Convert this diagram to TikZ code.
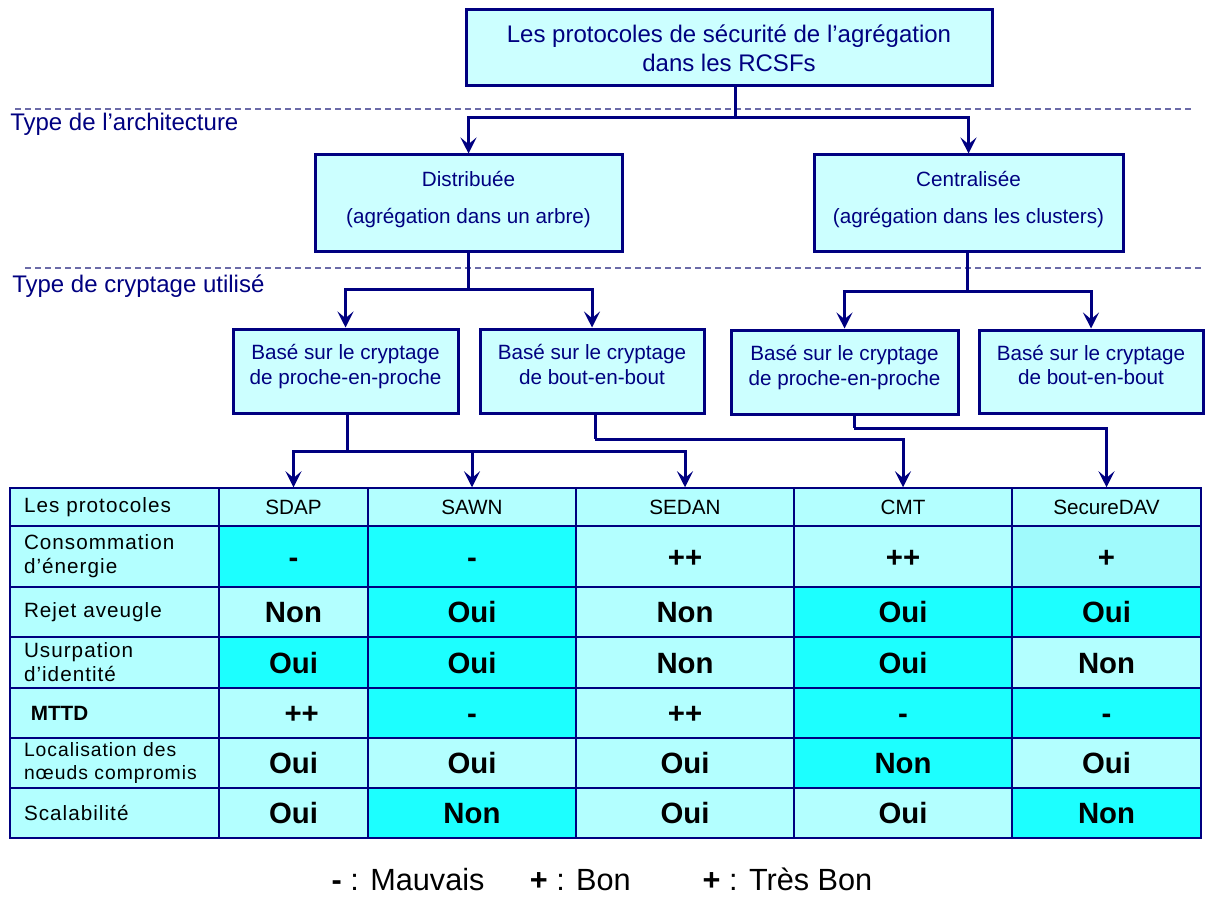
\documentclass[tikz,border=0pt]{standalone}
\usepackage{fontspec}
\setmainfont{Liberation Sans}
\usepackage[HTML]{xcolor}
\usetikzlibrary{positioning, arrows.meta}

\definecolor{navy}{HTML}{000080}
\definecolor{boxcyan}{HTML}{CCFFFF}
\definecolor{lightcyan}{HTML}{B3FFFF}
\definecolor{darkcyan}{HTML}{1CFFFF}
\definecolor{midcyan}{HTML}{A0FAFC}
\definecolor{sepblue}{HTML}{6B6BA8}

\begin{document}
\begin{tikzpicture}[x=0.75pt, y=-0.75pt,
  box/.style={draw=navy, line width=2.25pt, fill=boxcyan, text=navy, align=center, inner sep=0pt},
  link/.style={draw=navy, line width=2.25pt},
  arr/.style={link, -{Stealth[length=12pt, width=12pt, inset=5pt]}},
  sep/.style={draw=sepblue, line width=0.8pt, dash pattern=on 4.5pt off 3pt},
  lvl/.style={text=navy, font=\fontsize{18}{21.6}\selectfont, anchor=west, inner sep=0pt},
  cell/.style={draw=navy, line width=1.1pt, inner sep=0pt, text=black},
  head/.style={cell, fill=lightcyan, font=\fontsize{15.5}{18}\selectfont},
  lab/.style={cell, fill=lightcyan, font=\fontsize{15.5}{18}\selectfont\addfontfeatures{LetterSpace=5},
    text width=135.75pt, align=left, inner xsep=10.5pt},
  lo/.style={cell, fill=lightcyan, font=\bfseries\fontsize{22}{26}\selectfont, text height=15.75pt, text depth=0pt},
  hi/.style={lo, fill=darkcyan},
  mid/.style={lo, fill=midcyan},
  col0/.style={minimum width=156.75pt},
  col1/.style={minimum width=111.75pt},
  col2/.style={minimum width=156pt},
  col3/.style={minimum width=163.5pt},
  col4/.style={minimum width=163.5pt},
  col5/.style={minimum width=141.75pt},
  row0/.style={minimum height=28.5pt},
  row1/.style={minimum height=45.75pt},
  row2/.style={minimum height=37.5pt},
  row3/.style={minimum height=38.25pt},
  row4/.style={minimum height=37.5pt},
  row5/.style={minimum height=37.5pt},
  row6/.style={minimum height=37.5pt}]
\useasboundingbox (0,0) rectangle (1205,898);

% separators and level titles
\draw[sep] (15,109) -- (1193,109);
\draw[sep] (25,268) -- (1203,268);
\node[lvl] (archi) at (10,124) {Type de l’architecture};
\node[lvl] (crypt) at (12,286) {Type de cryptage utilisé};

% hierarchy boxes
\node[box, minimum width=394.5pt, minimum height=57pt, font=\fontsize{18}{21.6}\selectfont] (top) at (729,48)
  {Les protocoles de sécurité de l’agrégation\\dans les RCSFs};
\node[box, minimum width=230.25pt, minimum height=72.75pt, font=\fontsize{15.5}{18.6}\selectfont, text depth=9.5pt] (distrib) at (468.5,203.5)
  {Distribuée\\[9pt](agrégation dans un arbre)};
\node[box, minimum width=231.75pt, minimum height=72.75pt, font=\fontsize{15.5}{18.6}\selectfont, text depth=9.5pt] (central) at (968.5,203.5)
  {Centralisée\\[9pt](agrégation dans les clusters)};
\node[box, minimum width=168.75pt, minimum height=63pt, font=\fontsize{15.5}{18.6}\selectfont, text depth=10pt] (pp1) at (345.5,371)
  {Basé sur le cryptage\\de proche-en-proche};
\node[box, minimum width=168pt, minimum height=63pt, font=\fontsize{15.5}{18.6}\selectfont, text depth=10pt] (bb1) at (592,371)
  {Basé sur le cryptage\\de bout-en-bout};
\node[box, minimum width=170.25pt, minimum height=63pt, font=\fontsize{15.5}{18.6}\selectfont, text depth=10pt] (pp2) at (844.5,372)
  {Basé sur le cryptage\\de proche-en-proche};
\node[box, minimum width=168pt, minimum height=62.25pt, font=\fontsize{15.5}{18.6}\selectfont, text depth=10pt] (bb2) at (1091,371.5)
  {Basé sur le cryptage\\de bout-en-bout};

% table header
\node[lab, col0, row0] (hlab) at (114.5,507) {Les protocoles};
\node[head, col1, row0] (sdap) at (293.5,507) {SDAP};
\node[head, col2, row0] (sawn) at (472,507) {SAWN};
\node[head, col3, row0] (sedan) at (685,507) {SEDAN};
\node[head, col4, row0] (cmt) at (903,507) {CMT};
\node[head, col5, row0] (securedav) at (1106.5,507) {SecureDAV};

% energy
\node[lab, col0, row1] (en0) at (114.5,556.5) {Consommation\\d’énergie};
\node[hi, col1, row1] (en1) at (293.5,556.5) {-};
\node[hi, col2, row1] (en2) at (472,556.5) {-};
\node[lo, col3, row1] (en3) at (685,556.5) {++};
\node[lo, col4, row1] (en4) at (903,556.5) {++};
\node[mid, col5, row1] (en5) at (1106.5,556.5) {+};

% blind rejection
\node[lab, col0, row2] (rj0) at (114.5,612) {Rejet aveugle};
\node[lo, col1, row2] (rj1) at (293.5,612) {Non};
\node[hi, col2, row2] (rj2) at (472,612) {Oui};
\node[lo, col3, row2] (rj3) at (685,612) {Non};
\node[hi, col4, row2] (rj4) at (903,612) {Oui};
\node[hi, col5, row2] (rj5) at (1106.5,612) {Oui};

% identity
\node[lab, col0, row3] (us0) at (114.5,662.5) {Usurpation\\d’identité};
\node[hi, col1, row3] (us1) at (293.5,662.5) {Oui};
\node[hi, col2, row3] (us2) at (472,662.5) {Oui};
\node[lo, col3, row3] (us3) at (685,662.5) {Non};
\node[hi, col4, row3] (us4) at (903,662.5) {Oui};
\node[lo, col5, row3] (us5) at (1106.5,662.5) {Non};

% MTTD
\node[lab, col0, row4, font=\bfseries\fontsize{15.5}{18}\selectfont] (mt0) at (114.5,713) {\ MTTD};
\node[lo, col1, row4] (mt1) at (293.5,713) {\ \ ++};
\node[hi, col2, row4] (mt2) at (472,713) {-};
\node[lo, col3, row4] (mt3) at (685,713) {++};
\node[hi, col4, row4] (mt4) at (903,713) {-};
\node[hi, col5, row4] (mt5) at (1106.5,713) {-};

% localisation
\node[lab, col0, row5, font=\fontsize{14.5}{17.25}\selectfont\addfontfeatures{LetterSpace=5}] (lc0) at (114.5,763) {Localisation des\\nœuds compromis};
\node[lo, col1, row5] (lc1) at (293.5,763) {Oui};
\node[lo, col2, row5] (lc2) at (472,763) {Oui};
\node[lo, col3, row5] (lc3) at (685,763) {Oui};
\node[hi, col4, row5] (lc4) at (903,763) {Non};
\node[lo, col5, row5] (lc5) at (1106.5,763) {Oui};

% scalability
\node[lab, col0, row6] (sc0) at (114.5,813) {Scalabilité};
\node[lo, col1, row6] (sc1) at (293.5,813) {Oui};
\node[hi, col2, row6] (sc2) at (472,813) {Non};
\node[lo, col3, row6] (sc3) at (685,813) {Oui};
\node[lo, col4, row6] (sc4) at (903,813) {Oui};
\node[hi, col5, row6] (sc5) at (1106.5,813) {Non};

% legend
\node[font=\fontsize{23}{27}\selectfont, inner sep=0pt] (legend) at (602,879)
  {\textbf{-} : Mauvais\hspace{34pt}\textbf{+} : Bon\hspace{54pt}\textbf{+} : Très Bon};

% connectors, top to architecture
\coordinate (t1) at (735,118);
\draw[link] (t1 |- top.south) -- (t1);
\draw[arr] (t1) -| (distrib.north);
\draw[arr] (t1) -| (central.north);

% architecture to encryption
\coordinate (d1) at (468,290);
\draw[link] (d1 |- distrib.south) -- (d1);
\draw[arr] (d1) -| (pp1.north);
\draw[arr] (d1) -| (bb1.north);
\coordinate (c1) at (967,292);
\draw[link] (c1 |- central.south) -- (c1);
\draw[arr] (c1) -| (pp2.north);
\draw[arr] (c1) -| (bb2.north);

% encryption to protocols
\coordinate (p1) at (347,451);
\draw[link] (p1 |- pp1.south) -- (p1);
\draw[arr] (p1) -| (sdap.north);
\draw[arr] (p1) -| (sawn.north);
\draw[arr] (p1) -| (sedan.north);
\coordinate (b1) at (595,439);
\draw[link] (b1 |- bb1.south) -- (b1);
\draw[arr] (b1) -| (cmt.north);
\coordinate (p2) at (854,428);
\draw[link] (p2 |- pp2.south) -- (p2);
\draw[arr] (p2) -| (securedav.north);
\end{tikzpicture}
\end{document}
